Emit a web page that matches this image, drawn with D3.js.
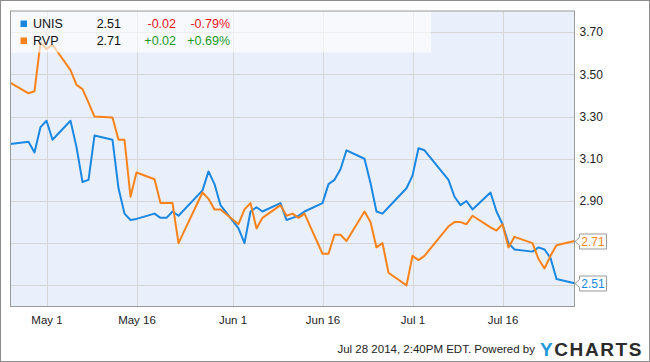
<!DOCTYPE html>
<html><head><meta charset="utf-8">
<script src="https://cdnjs.cloudflare.com/ajax/libs/d3/7.8.5/d3.min.js"></script>
<style>
html,body{margin:0;padding:0;background:#fff;}
svg{display:block;font-family:"Liberation Sans",Arial,sans-serif;}
</style></head>
<body>
<svg id="c" width="650" height="362"></svg>
<script>
const dates = ["2014-04-25","2014-04-28","2014-04-29","2014-04-30","2014-05-01","2014-05-02",
"2014-05-05","2014-05-06","2014-05-07","2014-05-08","2014-05-09",
"2014-05-12","2014-05-13","2014-05-14","2014-05-15","2014-05-16",
"2014-05-19","2014-05-20","2014-05-21","2014-05-22","2014-05-23",
"2014-05-27","2014-05-28","2014-05-29","2014-05-30",
"2014-06-02","2014-06-03","2014-06-04","2014-06-05","2014-06-06",
"2014-06-09","2014-06-10","2014-06-11","2014-06-12","2014-06-13",
"2014-06-16","2014-06-17","2014-06-18","2014-06-19","2014-06-20",
"2014-06-23","2014-06-24","2014-06-25","2014-06-26","2014-06-27",
"2014-06-30","2014-07-01","2014-07-02","2014-07-03",
"2014-07-07","2014-07-08","2014-07-09","2014-07-10","2014-07-11",
"2014-07-14","2014-07-15","2014-07-16","2014-07-17","2014-07-18",
"2014-07-21","2014-07-22","2014-07-23","2014-07-24","2014-07-25",
"2014-07-28"];
const unis = [3.17,3.18,3.13,3.25,3.28,3.19,
3.28,3.155,2.99,3.00,3.21,
3.19,2.96,2.84,2.81,2.815,
2.84,2.82,2.82,2.85,2.83,
2.95,3.04,2.98,2.88,
2.77,2.70,2.85,2.87,2.85,
2.89,2.81,2.82,2.83,2.85,
2.89,2.98,3.00,3.05,3.14,
3.10,2.985,2.85,2.84,2.87,
2.96,3.02,3.15,3.14,
3.00,2.92,2.88,2.90,2.86,
2.94,2.85,2.79,2.70,2.67,
2.66,2.68,2.67,2.63,2.53,
2.51];
const rvp = [3.46,3.41,3.42,3.65,3.62,3.64,
3.52,3.45,3.43,3.366,3.30,
3.295,3.19,3.19,2.92,3.035,
3.003,2.89,2.89,2.89,2.70,
2.94,2.91,2.86,2.86,
2.79,2.86,2.89,2.77,2.82,
2.88,2.83,2.84,2.82,2.84,
2.65,2.65,2.74,2.74,2.71,
2.85,2.80,2.68,2.70,2.56,
2.50,2.64,2.62,2.64,
2.78,2.80,2.80,2.79,2.83,
2.775,2.76,2.79,2.68,2.73,
2.70,2.625,2.58,2.64,2.69,
2.71];
const yTicks = [2.50,2.70,2.90,3.10,3.30,3.50,3.70];
const yLabelTicks = [2.90,3.10,3.30,3.50,3.70];
const xTicks = ["2014-05-01","2014-05-16","2014-06-01","2014-06-16","2014-07-01","2014-07-16"];
const xLabels = ["May 1","May 16","Jun 1","Jun 16","Jul 1","Jul 16"];
const legendNames = ["UNIS","RVP"];
const legendValues = ["2.51","2.71"];
const legendChanges = ["-0.02","+0.02"];
const legendPcts = ["-0.79%","+0.69%"];
const colors = ["#1a88e3","#fb8219"];
const changeColors = ["#e8141c","#1e9a1e"];
const footerText = "Jul 28 2014, 2:40PM EDT.  Powered by";

const parse = d3.timeParse("%Y-%m-%d");
const svg = d3.select("#c");
const L = 10.5, R = 574.5, T = 11, B = 306.5;

const x = d3.scaleTime().domain([parse("2014-04-25"), parse("2014-07-28")]).range([L, R]);
const y = d3.scaleLinear().domain([2.40, 3.80]).range([B, T]);

// outer frame
svg.append("rect").attr("x",0.5).attr("y",0.5).attr("width",649).attr("height",361)
  .attr("fill","#fff").attr("stroke","#8c8c8c");

// plot background
svg.append("rect").attr("x",L).attr("y",T).attr("width",R-L).attr("height",B-T)
  .attr("fill","#eaf0fb");

// gridlines
svg.append("g").selectAll("line").data(yTicks).join("line")
  .attr("x1",L).attr("x2",R).attr("y1",d=>Math.round(y(d))+0.5).attr("y2",d=>Math.round(y(d))+0.5)
  .attr("stroke","#d6d6d6").attr("stroke-width",1);
svg.append("g").selectAll("line").data(xTicks).join("line")
  .attr("y1",T).attr("y2",B).attr("x1",d=>Math.round(x(parse(d)))+0.5).attr("x2",d=>Math.round(x(parse(d)))+0.5)
  .attr("stroke","#d6d6d6").attr("stroke-width",1);

// lines
const line = d3.line().x((d,i)=>x(parse(dates[i]))).y(d=>y(d));
[unis, rvp].forEach((s,k)=>{
  svg.append("path").datum(s).attr("d",line).attr("fill","none")
    .attr("stroke",colors[k]).attr("stroke-width",2).attr("stroke-linejoin","round");
});

// legend overlay
svg.append("rect").attr("x",L+0.5).attr("y",T+0.5).attr("width",420).attr("height",41)
  .attr("fill","#ffffff").attr("fill-opacity",0.6);
const lg = svg.append("g").attr("font-size",12.5);
legendNames.forEach((n,i)=>{
  const by = 28 + i*17;
  lg.append("rect").attr("x",20.5).attr("y",by-7.5).attr("width",6.5).attr("height",6.5).attr("fill",colors[i]);
  lg.append("text").attr("x",33).attr("y",by).attr("fill","#111").text(n);
  lg.append("text").attr("x",121).attr("y",by).attr("text-anchor","end").attr("fill","#111").text(legendValues[i]);
  lg.append("text").attr("x",176).attr("y",by).attr("text-anchor","end").attr("fill",changeColors[i]).text(legendChanges[i]);
  lg.append("text").attr("x",230).attr("y",by).attr("text-anchor","end").attr("fill",changeColors[i]).text(legendPcts[i]);
});

// plot border
svg.append("rect").attr("x",L).attr("y",T).attr("width",R-L).attr("height",B-T)
  .attr("fill","none").attr("stroke","#9a9a9a").attr("stroke-width",1);

// right axis
const yAxis = d3.axisRight(y).tickValues(yLabelTicks).tickFormat(d3.format(".2f")).tickSize(0).tickPadding(5);
const ya = svg.append("g").attr("transform",`translate(${R},0)`).call(yAxis);
ya.select(".domain").remove();
ya.selectAll("text").attr("font-size",12).attr("fill","#222").attr("font-family","Liberation Sans, Arial, sans-serif");

// bottom axis
const xAxis = d3.axisBottom(x).tickValues(xTicks.map(parse)).tickFormat((d,i)=>xLabels[i]).tickSize(0).tickPadding(9);
const xa = svg.append("g").attr("transform",`translate(0,${B})`).call(xAxis);
xa.select(".domain").remove();
xa.selectAll("text").attr("font-size",11.5).attr("fill","#222").attr("font-family","Liberation Sans, Arial, sans-serif");

// end flags
[unis, rvp].forEach((s,k)=>{
  const v = s[s.length-1];
  const cy = Math.round(y(v))+0.5;
  const x0 = R+0.5, bx = R+5, bw = 27, h = 15;
  const p = `M${x0},${cy} L${bx},${cy-4} L${bx},${cy-h/2} L${bx+bw},${cy-h/2} L${bx+bw},${cy+h/2} L${bx},${cy+h/2} L${bx},${cy+4} Z`;
  svg.append("path").attr("d",p).attr("fill","#fff").attr("stroke","#999");
  svg.append("text").attr("x",bx+bw/2).attr("y",cy+4.5).attr("text-anchor","middle")
    .attr("font-size",12).attr("fill",colors[k]).text(d3.format(".2f")(v));
});

// footer
svg.append("text").attr("x",535).attr("y",353).attr("text-anchor","end")
  .attr("font-size",11.5).attr("fill","#222").text(footerText);
const logo = svg.append("text").attr("x",540).attr("y",355.5).attr("font-size",19)
  .attr("font-weight","bold").attr("letter-spacing",1.6).attr("font-family","Liberation Sans, Arial, sans-serif");
logo.append("tspan").attr("fill","#1e9ad6").text("Y");
logo.append("tspan").attr("fill","#2b2b2b").text("CHARTS");
</script>
</body></html>
